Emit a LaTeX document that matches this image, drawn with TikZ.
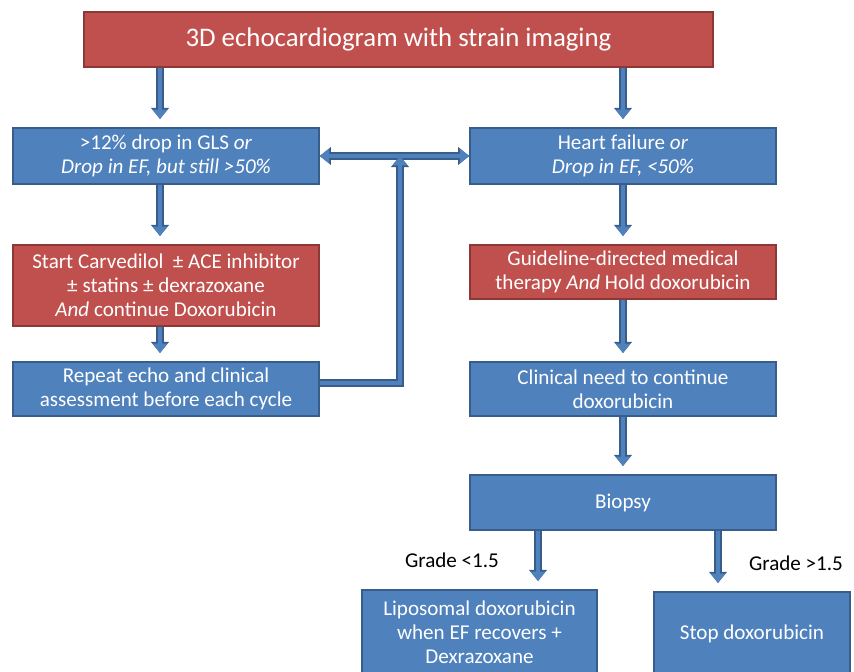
\documentclass[tikz,border=0pt]{standalone}
\usepackage{fontspec}
\setmainfont{Carlito}
\usepackage{tikz}
\usetikzlibrary{positioning,arrows.meta,calc}

\definecolor{boxblue}{HTML}{4F81BD}
\definecolor{boxblueedge}{HTML}{385D8A}
\definecolor{boxred}{HTML}{C0504D}
\definecolor{boxrededge}{HTML}{8C3836}

\tikzset{
  bluebox/.style={draw=boxblueedge, fill=boxblue, line width=1.4pt, text=white,
    align=center, inner sep=0pt, minimum width=9.18cm, minimum height=1.65cm,
    font=\fontsize{18pt}{20.5pt}\selectfont},
  redbox/.style={bluebox, draw=boxrededge, fill=boxred},
  flow/.style={draw=boxblue, line width=3.8pt, shorten >=7pt,
    -{Triangle[length=8pt,width=12.5pt,line width=0pt]},
    preaction={draw=boxblueedge, line width=6pt,
      -{Triangle[length=9.5pt,width=15.5pt,line width=0pt]}}},
  flowboth/.style={draw=boxblue, line width=3.8pt,
    {Triangle[length=8pt,width=12.5pt,line width=0pt]}-{Triangle[length=8pt,width=12.5pt,line width=0pt]},
    preaction={draw=boxblueedge, line width=6pt,
      {Triangle[length=9.5pt,width=15.5pt,line width=0pt]}-{Triangle[length=9.5pt,width=15.5pt,line width=0pt]}}},
  grade/.style={text=black, inner sep=0pt, font=\fontsize{18pt}{20.5pt}\selectfont}
}

\begin{document}
\begin{tikzpicture}[x=0.03cm, y=-0.03cm]
  \useasboundingbox (0,0) rectangle (854,672);
  \clip (0,0) rectangle (854,672);

  % boxes
  \node[redbox, minimum width=18.87cm, font=\fontsize{22.9pt}{26pt}\selectfont] (echo) at (398.5,39.5)
    {3D echocardiogram with strain imaging};
  \node[bluebox, minimum height=1.68cm] (gls) at (166,156)
    {>12\% drop in GLS \textit{or}\\ \textit{Drop in EF, but still >50\%}};
  \node[bluebox, minimum height=1.68cm] (hf) at (623,156)
    {Heart failure \textit{or}\\ \textit{Drop in EF, <50\%}};
  \node[redbox, minimum height=2.43cm] (carv) at (166,285.5)
    {Start Carvedilol \ ± ACE inhibitor\\ ± statins ± dexrazoxane\\ \textit{And} continue Doxorubicin};
  \node[redbox, minimum height=1.62cm] (gdmt) at (623,272)
    {Guideline-directed medical\\ therapy \textit{And} Hold doxorubicin};
  \node[bluebox, minimum height=1.62cm] (rep) at (166,389)
    {Repeat echo and clinical\\ assessment before each cycle};
  \node[bluebox, minimum height=1.62cm] (need) at (623,389)
    {Clinical need to continue\\ doxorubicin};
  \node[bluebox] (biopsy) at (623,502.5) {Biopsy};
  \node[bluebox, minimum width=7.05cm, minimum height=2.52cm] (lipo) at (479.5,632)
    {Liposomal doxorubicin\\ when EF recovers +\\ Dexrazoxane};
  \node[bluebox, minimum width=5.88cm, minimum height=2.52cm] (stop) at (752,634)
    {Stop doxorubicin};

  \node[grade] (low) at (452,560) {Grade <1.5};
  \node[grade] (high) at (796,563) {Grade >1.5};

  % arrows
  \coordinate (lx) at (160,0);
  \coordinate (ax) at (538,0);
  \coordinate (bx) at (718,0);
  \coordinate (fb) at (400,156);
  \draw[flow] (echo.south -| lx) -- (gls.north -| lx);
  \draw[flow] (echo.south -| hf) -- (hf.north);
  \draw[flow] (gls.south -| lx) -- (carv.north -| lx);
  \draw[flow] (carv.south -| lx) -- (rep.north -| lx);
  \draw[flow] (hf.south) -- (gdmt.north);
  \draw[flow] (gdmt.south) -- (need.north);
  \draw[flow] (need.south) -- (biopsy.north);
  \draw[flow] (biopsy.south -| ax) -- (lipo.north -| ax);
  \draw[flow] (biopsy.south -| bx) -- (stop.north -| bx);
  \draw[flowboth] (gls.east) -- (hf.west);
  \draw[flow, shorten >=0pt] ([yshift=0.18cm]rep.east) -| (fb);
\end{tikzpicture}
\end{document}
